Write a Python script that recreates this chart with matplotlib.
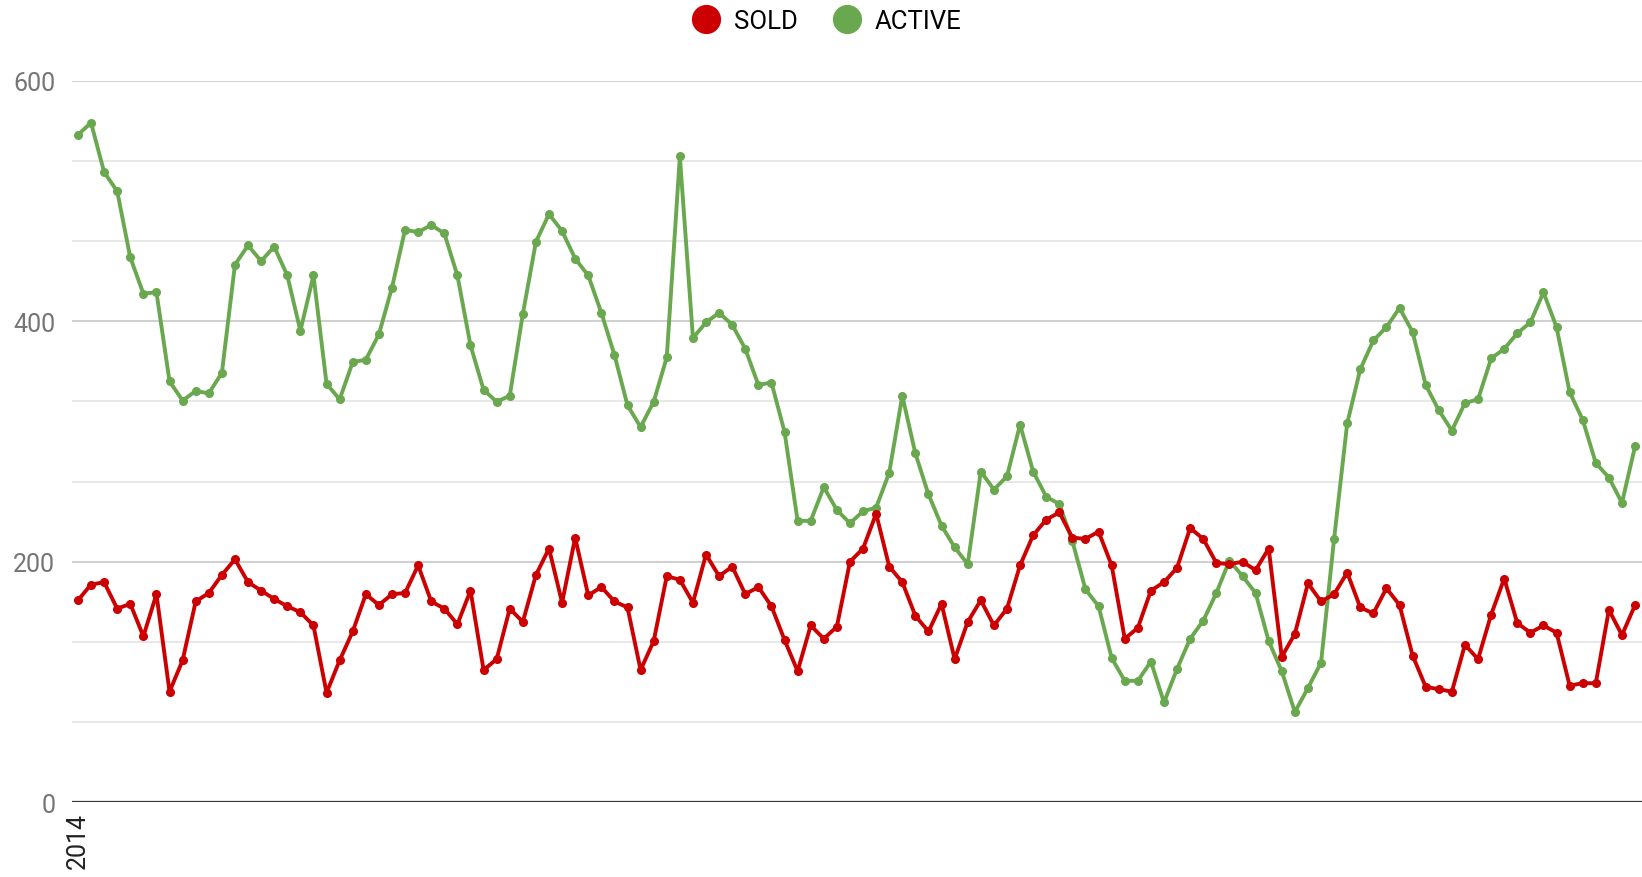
import matplotlib
matplotlib.use("Agg")
import matplotlib.pyplot as plt
from matplotlib.lines import Line2D
import numpy as np

plt.rcParams['font.family'] = ['Roboto', 'DejaVu Sans']

# monthly values, first month = 2014
sold = [168, 181, 183, 161, 165, 138, 173, 92, 118, 167, 174, 189, 202, 183, 176, 169,
        163, 158, 147, 91, 118, 142, 173, 164, 173, 174, 197, 167, 161, 148, 176, 110,
        119, 161, 150, 189, 211, 166, 220, 172, 179, 167, 162, 110, 134, 188, 185, 166,
        206, 188, 196, 173, 179, 163, 135, 109, 147, 136, 146, 200, 211, 240, 196, 183,
        155, 142, 165, 119, 150, 168, 147, 161, 197, 222, 235, 241, 220, 219, 225, 197,
        136, 145, 176, 183, 195, 228, 219, 199, 198, 200, 193, 211, 121, 140, 182, 167,
        173, 191, 162, 157, 178, 164, 122, 96, 94, 92, 131, 119, 156, 186, 149, 141,
        147, 141, 97, 99, 99, 160, 139, 164]
active = [555, 565, 524, 508, 453, 423, 424, 350, 334, 342, 340, 357, 447, 463, 450, 462,
          438, 392, 438, 348, 335, 366, 368, 389, 428, 476, 474, 480, 473, 438, 380, 343,
          333, 338, 406, 466, 489, 475, 452, 438, 407, 372, 330, 312, 333, 370, 537, 386,
          399, 407, 397, 377, 347, 349, 308, 234, 234, 262, 243, 232, 242, 245, 274, 338,
          290, 256, 230, 212, 198, 275, 260, 271, 314, 275, 254, 248, 217, 177, 163, 120,
          101, 101, 117, 83, 111, 136, 151, 174, 201, 188, 174, 134, 109, 75, 95, 116,
          219, 315, 360, 384, 395, 411, 391, 347, 326, 309, 332, 335, 369, 377, 390, 399,
          424, 395, 341, 318, 282, 270, 249, 296]
x_labels = ['2014']
y_ticks = [0, 200, 400, 600]

RED = '#cc0000'
GREEN = '#6aa84f'

fig = plt.figure(figsize=(16.42, 8.78), dpi=100)
ax = fig.add_axes([0.0438, 0.0851, 0.9562, 0.8219])

x = np.arange(len(sold))
ax.plot(x, active, color=GREEN, lw=2.8, marker='o', ms=5.5, zorder=3, clip_on=False)
ax.plot(x, sold, color=RED, lw=2.8, marker='o', ms=5.5, zorder=4, clip_on=False)

ax.set_xlim(-0.46, len(sold) - 1 + 0.53)
ax.set_ylim(0, 600)

# gridlines: major every 200, minor every 200/3
for v in np.linspace(0, 600, 10)[1:]:
    major = abs(v - round(v / 200) * 200) < 1e-6
    ax.axhline(v, color='#cccccc' if major else '#e6e6e6', lw=1.3, zorder=1)
ax.axhline(0, color='#333333', lw=1.6, zorder=5)

for s in ax.spines.values():
    s.set_visible(False)
ax.set_yticks(y_ticks)
ax.set_yticklabels([str(v) for v in y_ticks], color='#757575', fontsize=18)
ax.tick_params(axis='y', length=0, pad=12)
ax.set_xticks([0])
ax.set_xticklabels(x_labels, rotation=90, fontsize=18, color='#222222')
ax.tick_params(axis='x', length=0, pad=7)

handles = [Line2D([], [], ls='none', marker='o', ms=20, color=RED),
           Line2D([], [], ls='none', marker='o', ms=20, color=GREEN)]
fig.legend(handles, ['SOLD', 'ACTIVE'], loc='center', bbox_to_anchor=(0.503, 1 - 22 / 878),
           ncol=2, frameon=False, fontsize=18.5, handletextpad=0.5, columnspacing=1.3,
           handlelength=1.2)

fig.savefig('out.png', dpi=100)
